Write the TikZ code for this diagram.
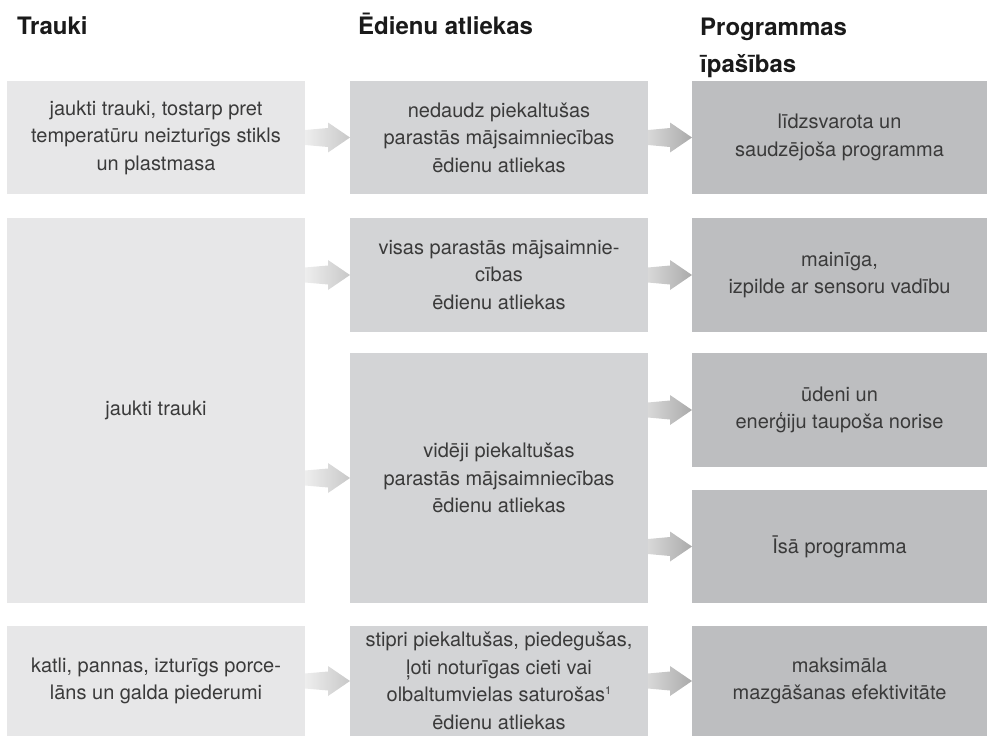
\documentclass[tikz,border=0pt]{standalone}
\usepackage{fontspec}
\setmainfont{TeX Gyre Heros}
\usetikzlibrary{calc}
\definecolor{cA}{HTML}{E7E7E8}
\definecolor{cB}{HTML}{D3D4D6}
\definecolor{cC}{HTML}{BDBEC0}
\definecolor{txt}{HTML}{3A3A3A}
\definecolor{hd}{HTML}{1A1A1A}
\definecolor{arA1}{HTML}{EEEEEE}
\definecolor{arA2}{HTML}{C8C8C8}
\definecolor{arB1}{HTML}{D8D8D8}
\definecolor{arB2}{HTML}{AAAAAA}
\newcommand\flowarrow[3]{%
  \shade[#1] let \p1=(#2.east|-#3.west), \p2=(#3.west) in
    (\x1,\y1+7.5pt) -- (\x2-22pt,\y2+9.5pt) -- (\x2-22pt,\y2+15pt) -- (\p2)
    -- (\x2-22pt,\y2-15pt) -- (\x2-22pt,\y2-9.5pt) -- (\x1,\y1-7.5pt) -- cycle;}
\begin{document}
\begin{tikzpicture}[x=1pt,y=-1pt,
  box/.style={rectangle, inner sep=0pt, outer sep=0pt, anchor=north west,
    align=center, text=txt, font=\fontsize{20}{27.5}\selectfont},
  boxA/.style={box, fill=cA, minimum width=298pt},
  boxB/.style={box, fill=cB, minimum width=298pt},
  boxC/.style={box, fill=cC, minimum width=295pt},
  head/.style={anchor=base west, inner sep=0pt, text=hd,
    font=\fontsize{24}{30}\selectfont\bfseries},
  arrA/.style={left color=arA1, right color=arA2},
  arrB/.style={left color=arB1, right color=arB2}]
\useasboundingbox (0,0) rectangle (987,736);
% headers
\node[head] (h1) at (17,34) {Trauki};
\node[head] (h2) at (358,34) {Ēdienu atliekas};
\node[head] (h3a) at (700,35) {Programmas};
\node[head] (h3b) at (700,72) {īpašības};
% column 1
\node[boxA, minimum height=113pt] (c1r1) at (7,81)
  {jaukti trauki, tostarp pret\\temperatūru neizturīgs stikls\\un plastmasa};
\node[boxA, minimum height=385pt] (c1r2) at (7,218) {jaukti trauki};
\node[boxA, minimum height=110pt] (c1r3) at (7,626)
  {katli, pannas, izturīgs porce-\\lāns un galda piederumi};
% column 2
\node[boxB, minimum height=113pt] (c2r1) at (350,81)
  {nedaudz piekaltušas\\parastās mājsaimniecības\\ēdienu atliekas};
\node[boxB, minimum height=114pt] (c2a) at (350,218)
  {visas parastās mājsaimnie-\\cības\\ēdienu atliekas};
\node[boxB, minimum height=250pt] (c2b) at (350,353)
  {vidēji piekaltušas\\parastās mājsaimniecības\\ēdienu atliekas};
\node[boxB, minimum height=110pt] (c2r3) at (350,626)
  {stipri piekaltušas, piedegušas,\\ļoti noturīgas cieti vai\\olbaltumvielas saturošas{\fontsize{11}{11}\selectfont\raisebox{7pt}{1}}\\ēdienu atliekas};
% column 3
\node[boxC, minimum height=113pt] (c3r1) at (692,81)
  {līdzsvarota un\\saudzējoša programma};
\node[boxC, minimum height=114pt] (c3a) at (692,218)
  {mainīga,\\izpilde ar sensoru vadību};
\node[boxC, minimum height=114pt] (c3b) at (692,353)
  {ūdeni un\\enerģiju taupoša norise};
\node[boxC, minimum height=113pt] (c3c) at (692,490)
  {Īsā programma};
\node[boxC, minimum height=110pt] (c3r3) at (692,626)
  {maksimāla\\mazgāšanas efektivitāte};
% arrows
\flowarrow{arrA}{c1r1}{c2r1}
\flowarrow{arrA}{c1r2}{c2a}
\flowarrow{arrA}{c1r2}{c2b}
\flowarrow{arrA}{c1r3}{c2r3}
\flowarrow{arrB}{c2r1}{c3r1}
\flowarrow{arrB}{c2a}{c3a}
\flowarrow{arrB}{c2b}{c3b}
\flowarrow{arrB}{c2b}{c3c}
\flowarrow{arrB}{c2r3}{c3r3}
\end{tikzpicture}
\end{document}
